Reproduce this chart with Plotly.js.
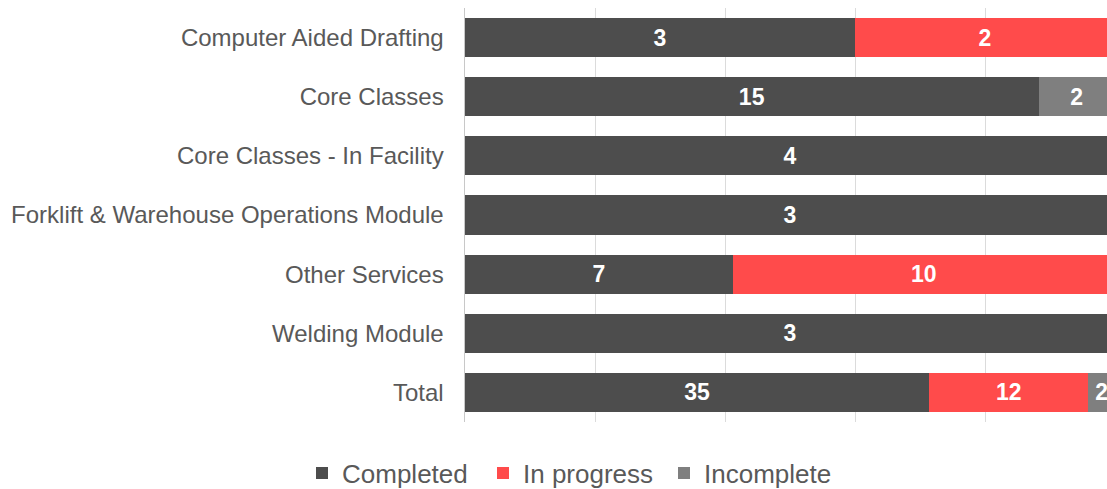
<!DOCTYPE html>
<html>
<head>
<meta charset="utf-8">
<script src="https://cdn.plot.ly/plotly-3.0.1.min.js"></script>
<style>
  html, body { margin: 0; padding: 0; background: #ffffff; overflow: hidden; }
  #chart { width: 1107px; height: 489px; }
</style>
</head>
<body>
<div id="chart"></div>
<script>
// ---- Data ----
const categories = [
  "Computer Aided Drafting",
  "Core Classes",
  "Core Classes - In Facility",
  "Forklift & Warehouse Operations Module",
  "Other Services",
  "Welding Module",
  "Total"
];
const completed  = [3, 15, 4, 3, 7, 3, 35];
const inProgress = [2, 0, 0, 0, 10, 0, 12];
const incomplete = [0, 2, 0, 0, 0, 0, 2];
const seriesNames = ["Completed", "In progress", "Incomplete"];
const seriesColors = ["#4d4d4d", "#ff4b4b", "#7f7f7f"];

const FONT = "Liberation Sans, Arial, sans-serif";
const labelOf = v => (v ? String(v) : "");

const seriesValues = [completed, inProgress, incomplete];
const traces = seriesValues.map((vals, i) => ({
  type: "bar",
  orientation: "h",
  name: seriesNames[i],
  y: categories,
  x: vals,
  text: vals.map(labelOf),
  texttemplate: "%{text}",
  textposition: "inside",
  insidetextanchor: "middle",
  textangle: 0,
  constraintext: "none",
  insidetextfont: { family: FONT, size: 23, color: "#ffffff", weight: "bold" },
  marker: { color: seriesColors[i], line: { width: 0 } },
  hoverinfo: "skip"
}));

const layout = {
  width: 1107,
  height: 489,
  margin: { l: 465, r: 0, t: 8, b: 67, pad: 0 },
  paper_bgcolor: "#ffffff",
  plot_bgcolor: "#ffffff",
  barmode: "stack",
  barnorm: "fraction",
  bargap: 0.34,
  showlegend: true,
  font: { family: FONT, color: "#595959" },
  xaxis: {
    range: [0, 642 / 650],
    dtick: 0.2,
    tick0: 0,
    showticklabels: false,
    ticks: "",
    showgrid: true,
    gridcolor: "rgba(0,0,0,0.14)",
    gridwidth: 1,
    zeroline: false,
    showline: false,
    layer: "above traces",
    fixedrange: true
  },
  yaxis: {
    type: "category",
    autorange: "reversed",
    showgrid: false,
    zeroline: false,
    showline: true,
    linecolor: "#c8c8c8",
    linewidth: 1.5,
    ticks: "",
    ticklabelstandoff: 15,
    tickfont: { family: FONT, size: 24, color: "#595959" },
    fixedrange: true
  },
  legend: {
    orientation: "h",
    xref: "container",
    yref: "container",
    x: 302 / 1107,
    xanchor: "left",
    y: (489 - 473) / 489,
    yanchor: "middle",
    font: { family: FONT, size: 26, color: "#595959" },
    bgcolor: "rgba(0,0,0,0)",
    borderwidth: 0,
    traceorder: "normal",
    entrywidth: 136,
    entrywidthmode: "pixels"
  }
};

Plotly.newPlot("chart", traces, layout, { displayModeBar: false, staticPlot: true });
</script>
</body>
</html>
